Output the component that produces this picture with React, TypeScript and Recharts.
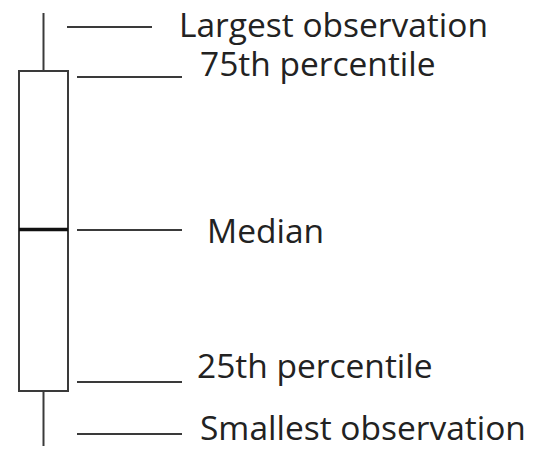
import { ComposedChart, Bar, XAxis, YAxis, ReferenceLine } from 'recharts'

// five-number summary, in vertical units (0 = bottom edge)
const CATEGORIES = ['sample']
const SMALLEST = [4]
const Q1 = [59]
const MEDIAN = [220.5]
const Q3 = [379]
const LARGEST = [437]

// annotation texts and the level each leader line points at
const LABEL_TEXT = ['Largest observation', '75th percentile', 'Median', '25th percentile', 'Smallest observation']
const LABEL_AT = [423, 373, 220, 68, 16]

const data = CATEGORIES.map((name, i) => ({
  name,
  base: SMALLEST[i],
  lowWhisker: Q1[i] - SMALLEST[i],
  lowBox: MEDIAN[i] - Q1[i],
  highBox: Q3[i] - MEDIAN[i],
  highWhisker: LARGEST[i] - Q3[i],
}))

// leader line + text placement, relative to the box's right edge
const LEADERS = [
  { from: -1, to: 84, textX: 111, textDy: 10 },
  { from: 9, to: 114, textX: 132, textDy: -1 },
  { from: 9, to: 114, textX: 139, textDy: 13 },
  { from: 9, to: 114, textX: 129, textDy: -4 },
  { from: 9, to: 114, textX: 132, textDy: 6 },
]

const INK = '#3a3a3a'
const FONT = '"Open Sans", sans-serif'

function Whisker(props: any) {
  const { x, y, width, height } = props
  const cx = x + width / 2
  return <line x1={cx} x2={cx} y1={y} y2={y + height} stroke={INK} strokeWidth={2} />
}

function LowerBox(props: any) {
  const { x, y, width, height } = props
  return <rect x={x} y={y} width={width} height={height} fill="#fff" stroke={INK} strokeWidth={2} />
}

function UpperBox(props: any) {
  const { x, y, width, height } = props
  return (
    <g>
      <rect x={x} y={y} width={width} height={height} fill="#fff" stroke={INK} strokeWidth={2} />
      <line x1={x} x2={x + width} y1={y + height} y2={y + height} stroke="#111" strokeWidth={3.5} />
    </g>
  )
}

const leaderShape = (i: number) => (props: any) => {
  const { x2, y1 } = props
  const l = LEADERS[i]
  return (
    <g>
      <line x1={x2 + l.from} x2={x2 + l.to} y1={y1} y2={y1} stroke={INK} strokeWidth={2} />
      <text x={x2 + l.textX} y={y1 + l.textDy} fill="#222" fontSize={33.5} fontFamily={FONT}>
        {LABEL_TEXT[i]}
      </text>
    </g>
  )
}

export default function App() {
  return (
    <div style={{ position: 'absolute', left: 0, top: 0 }}>
      <ComposedChart
        width={539}
        height={450}
        data={data}
        barCategoryGap={0}
        margin={{ top: 0, right: 471, bottom: 0, left: 19 }}
      >
        <XAxis dataKey="name" hide />
        <YAxis type="number" domain={[0, 450]} hide />
        <Bar dataKey="base" stackId="b" fill="none" isAnimationActive={false} />
        <Bar dataKey="lowWhisker" stackId="b" shape={Whisker} isAnimationActive={false} />
        <Bar dataKey="lowBox" stackId="b" shape={LowerBox} isAnimationActive={false} />
        <Bar dataKey="highBox" stackId="b" shape={UpperBox} isAnimationActive={false} />
        <Bar dataKey="highWhisker" stackId="b" shape={Whisker} isAnimationActive={false} />
        {LABEL_AT.map((v, i) => (
          <ReferenceLine key={LABEL_TEXT[i]} y={v} shape={leaderShape(i)} />
        ))}
      </ComposedChart>
    </div>
  )
}
